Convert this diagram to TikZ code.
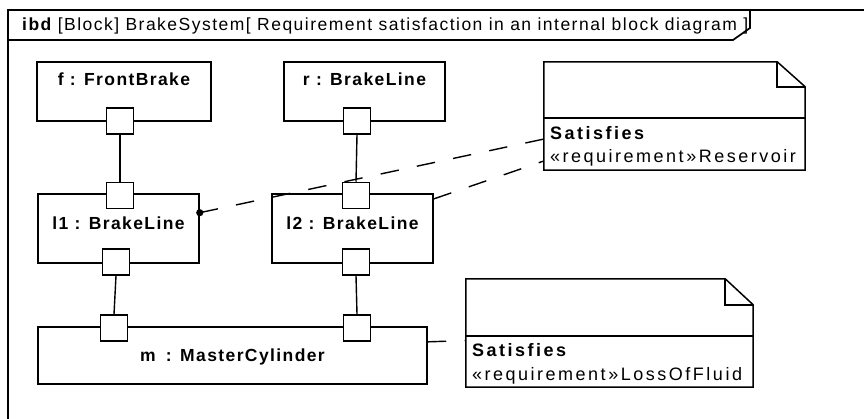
\documentclass[tikz,border=0pt]{standalone}
\usepackage{fontspec}
\setmainfont{Liberation Sans}
\newfontfamily\hdrfont{Liberation Sans}[LetterSpace=8.5]
\newfontfamily\notefont{Liberation Sans}[LetterSpace=14]
\newfontfamily\blkfont{Liberation Sans}[LetterSpace=8]
\begin{document}
\begin{tikzpicture}[x=1pt,y=-1pt,
  frameline/.style={line width=1.7pt},
  blk/.style={draw, line width=1.5pt, inner sep=0pt},
  port/.style={draw, fill=white, line width=1.5pt, inner sep=0pt, minimum width=27pt, minimum height=26pt},
  blkname/.style={inner sep=0pt, font=\blkfont\bfseries\fontsize{17.5}{19}\selectfont},
  conn/.style={line width=1.4pt},
  dep/.style={line width=1.4pt, dash pattern=on 18.5pt off 18.5pt},
  notearea/.style={inner sep=0pt},
  noteline/.style={line width=1.5pt},
  notetxt/.style={inner sep=0pt, anchor=west, font=\notefont\fontsize{18}{20}\selectfont},
]
\useasboundingbox (0,0) rectangle (864,419);
\clip (0,0) rectangle (864,419);
% frame
\draw[frameline] (8,440) -- (8,10) -- (900,10);
\draw[frameline] (8,40) -- (733,40) -- (750,28) -- (750,10);
\node[anchor=west, inner sep=0pt, font=\hdrfont\fontsize{17.5}{19}\selectfont] (hdr) at (22,26)
  {{\bfseries ibd} [Block] BrakeSystem[ Requirement satisfaction in an internal block diagram ]};

% blocks
\node[blk, minimum width=174pt, minimum height=59pt] (f) at (124,91.5) {};
\node[blkname] (ft) at (f.north |- 0,79) {f : FrontBrake};
\node[blk, minimum width=161pt, minimum height=59pt] (r) at (364.5,91.5) {};
\node[blkname] (rt) at (r.north |- 0,79) {r : BrakeLine};
\node[blk, minimum width=161pt, minimum height=69pt] (l1) at (118.5,228.5) {};
\node[blkname] (l1t) at (l1.north |- 0,223) {l1 : BrakeLine};
\node[blk, minimum width=161pt, minimum height=69pt] (l2) at (352.5,228.5) {};
\node[blkname] (l2t) at (l2.north |- 0,223) {l2 : BrakeLine};
\node[blk, minimum width=389pt, minimum height=57pt] (m) at (232.5,355.5) {};
\node[blkname] (mt) at (m.north |- 0,357) {m\hspace{4pt} : MasterCylinder};

% notes
\node[notearea, minimum width=261pt, minimum height=108pt] (n1) at (674.5,116) {};
\draw[noteline] (n1.north west) -- ([xshift=-28pt]n1.north east) -- ([yshift=-25pt]n1.north east) -- (n1.south east) -- (n1.south west) -- cycle;
\draw[noteline] ([xshift=-28pt]n1.north east) -- ([xshift=-28pt,yshift=-25pt]n1.north east) -- ([yshift=-25pt]n1.north east);
\draw[noteline] ([yshift=-56pt]n1.north west) -- ([yshift=-56pt]n1.north east);
\node[notetxt] (n1a) at ([xshift=6pt,yshift=-71pt]n1.north west) {\bfseries Satisfies};
\node[notetxt] (n1b) at ([xshift=6pt,yshift=-96pt]n1.north west) {«requirement»Reservoir};

\node[notearea, minimum width=287pt, minimum height=108pt] (n2) at (609.5,333) {};
\draw[noteline] (n2.north west) -- ([xshift=-28pt]n2.north east) -- ([yshift=-26pt]n2.north east) -- (n2.south east) -- (n2.south west) -- cycle;
\draw[noteline] ([xshift=-28pt]n2.north east) -- ([xshift=-28pt,yshift=-26pt]n2.north east) -- ([yshift=-26pt]n2.north east);
\draw[noteline] ([yshift=-57pt]n2.north west) -- ([yshift=-57pt]n2.north east);
\node[notetxt] (n2a) at ([xshift=6pt,yshift=-71pt]n2.north west) {\bfseries Satisfies};
\node[notetxt] (n2b) at ([xshift=6pt,yshift=-97pt]n2.north west) {«requirement»LossOfFluid};

% ports
\node[port] (fp) at (120,121) {};
\node[port] (l1p) at (120,195.5) {};
\node[port] (l1q) at (116,262) {};
\node[port] (rp) at (357,121) {};
\node[port] (l2p) at (356,195.5) {};
\node[port] (l2q) at (356,262) {};
\node[port] (mp) at (114,328) {};
\node[port] (mq) at (357,328) {};

% connectors
\draw[conn] (fp.south) -- (l1p.north);
\draw[conn] (rp.south) -- (l2p.north);
\draw[conn] (l1q.south) -- (mp.north);
\draw[conn] (l2q.south) -- (mq.north);

% satisfy dependencies
\draw[dep] (l1.11.6) -- (n1.190.8);
\fill (l1.11.6) circle (3.6pt);
\draw[dep] (l2.20.1) -- (n1.199.8);
\draw[dep] (m.4.0) -- (n2.183.2);
\end{tikzpicture}
\end{document}
